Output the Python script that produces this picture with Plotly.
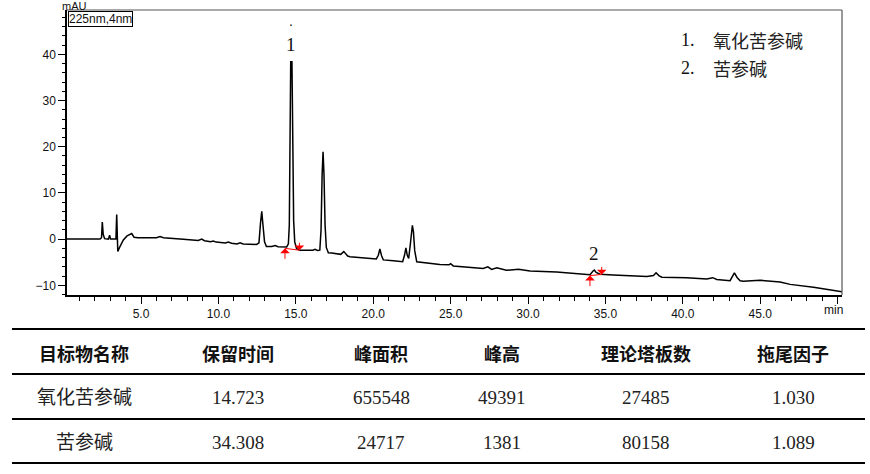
import plotly.graph_objects as go

# Chromatogram trace (time in min, signal in mAU)
time_min = [0.22, 2.35, 2.45, 2.50, 2.56, 2.65, 2.90, 2.97, 3.04, 3.38, 3.43, 3.47, 3.50, 3.60,
            3.86, 4.10, 4.40, 4.55, 4.80, 6.00, 6.23, 6.45, 7.00, 7.73, 8.70, 8.92, 9.10, 9.50,
            9.67, 9.85, 10.45, 10.64, 10.85, 11.20, 11.40, 11.60, 12.47, 12.62, 12.72, 12.80,
            12.88, 12.98, 13.10, 13.45, 13.66, 13.85, 14.41, 14.52, 14.58, 14.63, 14.67, 14.75,
            14.80, 14.86, 14.93, 15.05, 15.27, 15.80, 16.10, 16.24, 16.40, 16.55, 16.63, 16.70,
            16.76, 16.82, 16.89, 16.97, 17.10, 17.32, 17.50, 17.90, 18.10, 18.35, 18.50, 19.50,
            20.20, 20.33, 20.43, 20.54, 20.65, 21.30, 21.90, 22.02, 22.11, 22.20, 22.29, 22.40,
            22.48, 22.53, 22.60, 22.68, 22.81, 23.67, 24.30, 24.90, 25.00, 25.17, 26.04, 27.10,
            27.40, 27.65, 27.98, 28.60, 29.38, 30.13, 31.85, 33.57, 34.00, 34.20, 34.28, 34.40,
            34.65, 35.50, 37.67, 38.10, 38.27, 38.45, 38.64, 40.25, 41.54, 41.93, 42.19, 43.05,
            43.20, 43.33, 43.50, 43.70, 43.90, 44.99, 46.28, 46.93, 48.44, 50.28]
signal_mau = [0.0, 0.0, 0.3, 3.7, 1.0, 0.1, 0.0, 0.85, 0.0, 0.0, 5.3, -1.0, -2.7, -1.9,
              -0.2, 0.7, 1.2, 0.4, 0.3, 0.3, 0.55, 0.3, 0.2, -0.05, -0.3, 0.0, -0.35, -0.55,
              -0.4, -0.65, -0.85, -0.65, -0.9, -1.05, -0.8, -1.05, -1.15, -0.8, 3.5, 6.0,
              3.0, -0.6, -1.6, -1.6, -1.4, -1.65, -1.7, -1.0, 3.0, 20.0, 38.4, 38.4,
              20.0, 4.0, -0.6, -2.1, -2.4, -2.35, -2.4, -2.2, -2.45, -2.4, 2.0, 14.0,
              18.9, 14.0, 3.0, -1.8, -2.95, -3.0, -3.1, -3.3, -2.7, -3.65, -3.8, -4.1,
              -4.3, -3.5, -2.1, -3.6, -4.5, -4.7, -4.9, -3.5, -1.9, -3.5, -4.2, -1.0,
              2.5, 3.0, 1.5, -2.5, -4.9, -5.25, -5.5, -5.55, -5.3, -5.8, -6.0, -6.35,
              -6.0, -6.55, -6.2, -6.75, -6.55, -6.9, -7.1, -7.55, -7.7, -6.9, -6.7, -7.2,
              -7.6, -7.75, -8.1, -7.9, -7.3, -7.9, -8.25, -8.35, -8.65, -8.35, -8.75, -9.0,
              -8.2, -7.3, -8.3, -9.0, -9.1, -8.9, -9.3, -9.8, -10.4, -11.4]

# Integration start / end marks of the two named peaks
integ_start_t = [14.30, 34.00]
integ_start_v = [-2.0, -7.9]
integ_end_t = [15.23, 34.76]
integ_end_v = [-2.4, -7.65]
peak_ids = ["1", "2"]
peak_label_t = [14.72, 34.28]
peak_label_v = [42.1, -3.2]

# Legend list and result table
compound_names = ["氧化苦参碱", "苦参碱"]
table_header = ["目标物名称", "保留时间", "峰面积", "峰高", "理论塔板数", "拖尾因子"]
retention_time = ["14.723", "34.308"]
peak_area = ["655548", "24717"]
peak_height = ["49391", "1381"]
plate_number = ["27485", "80158"]
tailing_factor = ["1.030", "1.089"]

W, H = 870, 474


def px(x):
    return x / W


def py(y):
    return 1 - y / H


fig = go.Figure()

fig.add_trace(go.Scatter(
    x=time_min, y=signal_mau, mode="lines",
    line=dict(color="black", width=1.5), hoverinfo="skip", showlegend=False
))

for i in range(len(peak_ids)):
    fig.add_trace(go.Scatter(
        x=[integ_start_t[i], integ_end_t[i]], y=[integ_start_v[i], integ_end_v[i]],
        mode="lines", line=dict(color="red", width=1), showlegend=False, hoverinfo="skip"
    ))
    # arrows: start points up from below, end points down from above
    fig.add_annotation(x=integ_start_t[i], y=integ_start_v[i], ax=0, ay=12, text="",
                       showarrow=True, arrowhead=1, arrowsize=1.6, arrowwidth=1, arrowcolor="red")
    fig.add_annotation(x=integ_end_t[i], y=integ_end_v[i], ax=0, ay=-9, text="",
                       showarrow=True, arrowhead=1, arrowsize=1.6, arrowwidth=1, arrowcolor="red")
    fig.add_annotation(x=peak_label_t[i], y=peak_label_v[i], text=peak_ids[i], showarrow=False,
                       xanchor="center", yanchor="middle",
                       font=dict(family="Liberation Serif", size=19, color="#111"))

# small dot above peak 1
fig.add_annotation(x=peak_label_t[0], y=47.3, text=".", showarrow=False,
                   xanchor="center", yanchor="middle",
                   font=dict(family="Liberation Sans", size=14, color="#111"))

# plot frame top / right edge
fig.add_shape(type="line", xref="paper", yref="paper", x0=px(67), x1=px(842), y0=py(10), y1=py(10),
              line=dict(color="#555", width=1.2))
fig.add_shape(type="line", xref="paper", yref="paper", x0=px(842), x1=px(842), y0=py(10), y1=py(295),
              line=dict(color="#555", width=1.2))

fig.add_annotation(xref="paper", yref="paper", x=px(60), y=py(5.5), text="mAU", showarrow=False,
                   xanchor="left", yanchor="middle", font=dict(family="Liberation Sans", size=11, color="#111"))
fig.add_annotation(xref="paper", yref="paper", x=px(67.5), y=py(10.5), text="225nm,4nm", showarrow=False,
                   xanchor="left", yanchor="top", bordercolor="black", borderwidth=1, borderpad=0,
                   bgcolor="white", font=dict(family="Liberation Sans", size=12, color="#111"))
fig.add_annotation(xref="paper", yref="paper", x=px(833), y=py(310), text="min", showarrow=False,
                   xanchor="center", yanchor="middle",
                   font=dict(family="Liberation Sans", size=12, color="#111"))

# legend list of compounds
for i, name in enumerate(compound_names):
    yy = 40 + 28 * i
    fig.add_annotation(xref="paper", yref="paper", x=px(679), y=py(yy), text=f"{i + 1}.", showarrow=False,
                       xanchor="left", yanchor="middle",
                       font=dict(family="Liberation Serif", size=18, color="#111"))
    fig.add_annotation(xref="paper", yref="paper", x=px(711), y=py(yy), text=name, showarrow=False,
                       xanchor="left", yanchor="middle",
                       font=dict(family="Noto Sans CJK SC", size=18, color="#222"))

# result table below the chart
col_x = [84, 238, 381, 502, 646, 793]
line_y = [329, 374, 419, 463]
for yl in line_y:
    fig.add_shape(type="line", xref="paper", yref="paper", x0=px(12), x1=px(865), y0=py(yl), y1=py(yl),
                  line=dict(color="black", width=2.2))

for cx, head in zip(col_x, table_header):
    fig.add_annotation(xref="paper", yref="paper", x=px(cx), y=py(353), text=f"<b>{head}</b>",
                       showarrow=False, xanchor="center", yanchor="middle",
                       font=dict(family="Noto Sans CJK SC", size=18, color="#111"))

rows = list(zip(compound_names, retention_time, peak_area, peak_height, plate_number, tailing_factor))
for r, row in enumerate(rows):
    yy = 397 + 45 * r
    for cx, cell in zip(col_x, row):
        fig.add_annotation(xref="paper", yref="paper", x=px(cx), y=py(yy), text=cell, showarrow=False,
                           xanchor="center", yanchor="middle",
                           font=dict(family="Liberation Serif, Noto Sans CJK SC", size=19, color="#222"))

fig.update_layout(
    width=W, height=H,
    margin=dict(l=0, r=0, t=0, b=0),
    paper_bgcolor="white", plot_bgcolor="white",
    showlegend=False,
    xaxis=dict(
        domain=[px(67), px(842)], range=[0.22, 50.28],
        tickvals=[5, 10, 15, 20, 25, 30, 35, 40, 45, 50],
        ticktext=["5.0", "10.0", "15.0", "20.0", "25.0", "30.0", "35.0", "40.0", "45.0", ""],
        ticks="outside", ticklen=7, tickcolor="black", tickwidth=1,
        minor=dict(dtick=1, tick0=0, ticks="outside", ticklen=4, tickcolor="black"),
        showline=True, linecolor="black", linewidth=1.5, showgrid=False, zeroline=False,
        tickfont=dict(family="Liberation Sans", size=12, color="#111"), automargin=False,
    ),
    yaxis=dict(
        domain=[py(295), py(10)], range=[-12.1, 49.6],
        tickvals=[-10, 0, 10, 20, 30, 40],
        ticks="outside", ticklen=7, tickcolor="black", tickwidth=1,
        minor=dict(dtick=2, tick0=0, ticks="outside", ticklen=3, tickcolor="black"),
        showline=True, linecolor="black", linewidth=1.5, showgrid=False, zeroline=False,
        tickfont=dict(family="Liberation Sans", size=12, color="#111"), automargin=False,
    ),
)

# drop the default page margin so the figure sits at the window's top-left corner
fig.write_html("out.html", config={"displayModeBar": False},
               post_script="document.body.style.margin='0';")
